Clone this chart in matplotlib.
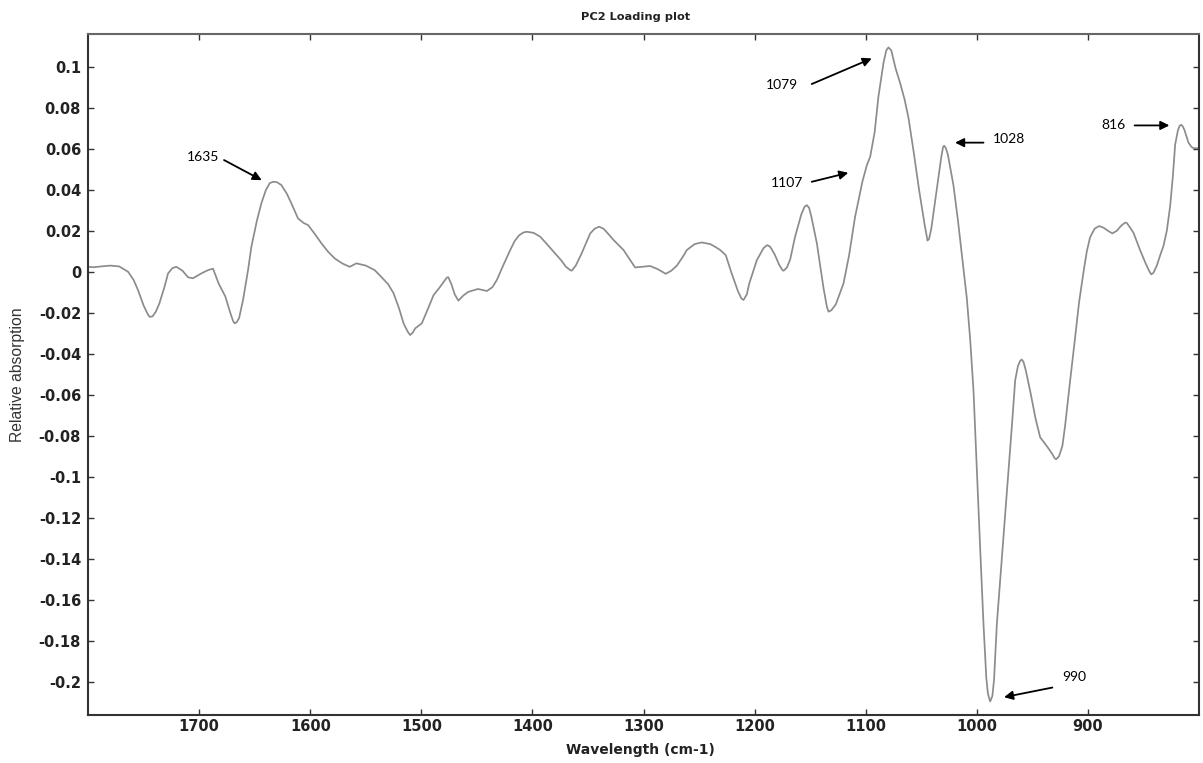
import matplotlib
matplotlib.use("Agg")
import matplotlib.pyplot as plt
from matplotlib.ticker import FixedLocator, FuncFormatter

plt.rcParams['axes.unicode_minus'] = False

# Wavenumber (cm-1) and PC2 loading values
wavenumber = [1800, 1795, 1790, 1780, 1772, 1764, 1759, 1755, 1750, 1746, 1744.5, 1742, 1739,
              1735.7, 1731, 1728, 1724, 1720.5, 1715, 1710, 1705.6, 1698, 1692, 1687.5, 1682.5,
              1676.5, 1672, 1669.5, 1668, 1666, 1664, 1660.5, 1656, 1653, 1648, 1644, 1640,
              1636.5, 1633.5, 1630, 1626, 1621, 1617, 1611, 1606, 1602, 1596, 1590, 1584, 1578,
              1571, 1564.5, 1558.5, 1550, 1542, 1537, 1530, 1525, 1520, 1516, 1512, 1510,
              1507.5, 1505.5, 1499.6, 1494, 1489, 1484, 1480, 1477, 1475.7, 1473, 1470, 1466.7,
              1462, 1457.7, 1449, 1441, 1436, 1432, 1426, 1420, 1416, 1412, 1408, 1405, 1399,
              1393, 1387, 1381, 1374, 1370, 1366, 1364.7, 1361, 1355.7, 1351, 1348, 1344, 1340,
              1336, 1331, 1327, 1318, 1307.6, 1300, 1294, 1287, 1280, 1275, 1270, 1265, 1261,
              1254, 1247.7, 1240, 1235, 1231, 1226, 1220.7, 1215, 1212, 1210, 1207, 1205, 1198,
              1192, 1190, 1188.5, 1186, 1182, 1178, 1175, 1174, 1171, 1168, 1163.6, 1158, 1155,
              1153, 1151, 1149, 1144, 1138, 1135, 1133.5, 1131, 1127, 1120, 1115, 1109.6, 1103,
              1099, 1096, 1092, 1088.6, 1084, 1081.5, 1079.6, 1077, 1073, 1069, 1065, 1061.6,
              1057, 1052, 1047, 1045, 1044.4, 1043, 1041, 1037, 1032, 1030.5, 1029.5, 1028,
              1026, 1021, 1017, 1013, 1009, 1006, 1003, 1000, 997, 994, 991.5, 990, 988, 986,
              984.5, 982, 980, 977, 973, 968, 965.5, 963, 961, 959.6, 958, 956, 952, 947, 943,
              937, 932, 930, 928.6, 926, 923, 920.6, 916, 911.6, 908, 904, 901, 898, 894, 890,
              886, 882, 878, 874, 870, 866.5, 865, 862, 859, 853, 848, 845, 843, 841, 838, 835,
              832, 829, 826, 823.5, 821.5, 819, 817.5, 816, 814.5, 813, 811, 809.6, 807, 805,
              800.6]
loading = [0.0024, 0.0022, 0.0025, 0.0030, 0.0026, 0.0000, -0.0040, -0.0090, -0.0165,
           -0.0210, -0.0220, -0.0218, -0.0195, -0.0153, -0.0070, -0.0008, 0.0018, 0.0024,
           0.0005, -0.0027, -0.0032, -0.0008, 0.0008, 0.0015, -0.0057, -0.0120, -0.0200,
           -0.0240, -0.0252, -0.0245, -0.0225, -0.0138, 0.0008, 0.0122, 0.0250, 0.0334,
           0.0398, 0.0432, 0.0439, 0.0437, 0.0423, 0.0380, 0.0334, 0.0260, 0.0238, 0.0228,
           0.0185, 0.0139, 0.0098, 0.0065, 0.0040, 0.0024, 0.0041, 0.0030, 0.0008, -0.0020,
           -0.0060, -0.0105, -0.0180, -0.0252, -0.0295, -0.0309, -0.0295, -0.0276, -0.0252,
           -0.0180, -0.0114, -0.0080, -0.0050, -0.0028, -0.0027, -0.0060, -0.0110, -0.0141,
           -0.0115, -0.0098, -0.0084, -0.0094, -0.0075, -0.0040, 0.0035, 0.0106, 0.0150,
           0.0178, 0.0192, 0.0195, 0.0190, 0.0171, 0.0135, 0.0098, 0.0055, 0.0025, 0.0008,
           0.0005, 0.0030, 0.0090, 0.0150, 0.0187, 0.0210, 0.0220, 0.0210, 0.0180, 0.0155,
           0.0106, 0.0021, 0.0025, 0.0028, 0.0012, -0.0010, 0.0005, 0.0030, 0.0070, 0.0106,
           0.0135, 0.0143, 0.0135, 0.0120, 0.0106, 0.0081, -0.0008, -0.0095, -0.0130,
           -0.0138, -0.0110, -0.0060, 0.0057, 0.0115, 0.0125, 0.0130, 0.0122, 0.0085, 0.0035,
           0.0008, 0.0005, 0.0020, 0.0060, 0.0171, 0.0280, 0.0318, 0.0325, 0.0312, 0.0270,
           0.0139, -0.0080, -0.0170, -0.0195, -0.0188, -0.0160, -0.0057, 0.0080, 0.0268,
           0.0440, 0.0520, 0.0561, 0.0680, 0.0854, 0.1020, 0.1080, 0.1095, 0.1080, 0.0990,
           0.0920, 0.0840, 0.0753, 0.0590, 0.0400, 0.0230, 0.0170, 0.0152, 0.0160, 0.0210,
           0.0365, 0.0560, 0.0605, 0.0615, 0.0605, 0.0570, 0.0420, 0.0250, 0.0060, -0.0130,
           -0.0330, -0.0580, -0.0970, -0.1350, -0.1720, -0.1980, -0.2060, -0.2097, -0.2070,
           -0.1990, -0.1720, -0.1577, -0.1363, -0.1077, -0.0720, -0.0530, -0.0460, -0.0435,
           -0.0428, -0.0440, -0.0480, -0.0582, -0.0720, -0.0808, -0.0851, -0.0890, -0.0910,
           -0.0915, -0.0900, -0.0850, -0.0754, -0.0530, -0.0324, -0.0150, -0.0002, 0.0100,
           0.0169, 0.0210, 0.0223, 0.0215, 0.0200, 0.0187, 0.0200, 0.0225, 0.0240, 0.0238,
           0.0215, 0.0190, 0.0105, 0.0040, 0.0005, -0.0013, -0.0005, 0.0030, 0.0080, 0.0126,
           0.0200, 0.0320, 0.0470, 0.0620, 0.0690, 0.0712, 0.0717, 0.0708, 0.0690, 0.0655,
           0.0631, 0.0610, 0.0603, 0.0603]

# Annotations: label, arrow head (x, y), arrow tail (x, y), text position (x, y)
ann_labels = ["1635", "1079", "1107", "1028", "816", "990"]
ann_heads = [(1643.7, 0.0447), (1094.6, 0.1041), (1115.7, 0.0483), (1019.6, 0.0630),
             (826.7, 0.0714), (975.5, -0.2076)]
ann_tails = [(1677.6, 0.0545), (1148.6, 0.0916), (1148.6, 0.0439), (994.0, 0.0630),
             (858.0, 0.0714), (932.0, -0.2029)]
ann_texts = [(1696.5, 0.0560), (1175.7, 0.0910), (1171.0, 0.0431), (970.7, 0.0646),
             (877.0, 0.0716), (912.5, -0.1979)]

x_ticks = [1700, 1600, 1500, 1400, 1300, 1200, 1100, 1000, 900]
y_ticks = [0.1, 0.08, 0.06, 0.04, 0.02, 0, -0.02, -0.04, -0.06, -0.08, -0.1, -0.12, -0.14,
           -0.16, -0.18, -0.2]

fig = plt.figure(figsize=(12.03, 7.63), dpi=100)
ax = fig.add_axes([0.0732, 0.0629, 0.9235, 0.8925])

ax.plot(wavenumber, loading, color='#8c8c8c', lw=1.25, solid_joinstyle='round')

ax.set_xlim(1800, 800)
ax.set_ylim(-0.2163, 0.116)

ax.xaxis.set_major_locator(FixedLocator(x_ticks))
ax.yaxis.set_major_locator(FixedLocator(y_ticks))
ax.yaxis.set_major_formatter(FuncFormatter(lambda v, p: "%g" % round(v, 3)))
ax.xaxis.set_major_formatter(FuncFormatter(lambda v, p: "%d" % v))

ax.tick_params(axis='both', which='major', direction='in', length=4, width=1,
               color='#333333', labelsize=10.5, top=True, right=True)
ax.tick_params(axis='y', pad=5)
ax.tick_params(axis='x', pad=3)
for lab in ax.get_xticklabels() + ax.get_yticklabels():
    lab.set_fontweight('bold')
    lab.set_fontfamily('DejaVu Sans')
    lab.set_color('#222222')

for side in ['left', 'bottom', 'right']:
    ax.spines[side].set_color('#333333')
    ax.spines[side].set_linewidth(1.5)
ax.spines['top'].set_color('#666666')
ax.spines['top'].set_linewidth(1.5)

fig.text(0.5287, 1 - 17 / 763, "PC2 Loading plot", ha='center', va='center',
         fontsize=8.2, fontweight='bold', family='DejaVu Sans', color='#222222')
fig.text(0.5325, 1 - 750 / 763, "Wavelength (cm-1)", ha='center', va='center',
         fontsize=10, fontweight='bold', family='DejaVu Sans', color='#222222')
fig.text(18 / 1203, 1 - 375 / 763, "Relative absorption", ha='center', va='center',
         rotation=90, fontsize=11.3, family='Liberation Sans', color='#333333')

for lab, head, tail, txt in zip(ann_labels, ann_heads, ann_tails, ann_texts):
    ax.annotate("", xy=head, xytext=tail,
                arrowprops=dict(arrowstyle='-|>', color='black', lw=1.3,
                                mutation_scale=13, shrinkA=0, shrinkB=0))
    ax.text(txt[0], txt[1], lab, ha='center', va='center', fontsize=10,
            family='Lato', color='black')

fig.savefig("out.png", dpi=100)
